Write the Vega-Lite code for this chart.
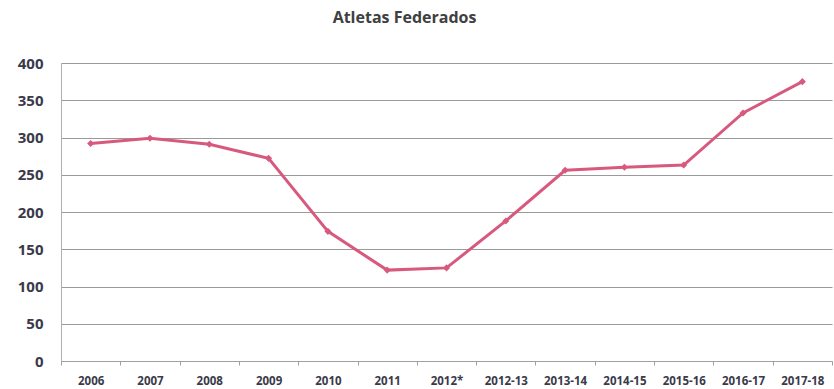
{
  "$schema": "https://vega.github.io/schema/vega-lite/v6.json",
  "width": 771,
  "height": 298,
  "autosize": {"type": "none"},
  "padding": {"left": 61, "top": 63, "right": 2, "bottom": 28},
  "background": "white",
  "title": {
    "text": "Atletas Federados",
    "font": "Open Sans",
    "fontSize": 16,
    "fontWeight": "bold",
    "color": "#404040",
    "anchor": "middle",
    "dx": -42,
    "offset": 30
  },
  "data": {
    "values": [
      {"periodo": "2006", "atletas": 292},
      {"periodo": "2007", "atletas": 299},
      {"periodo": "2008", "atletas": 291},
      {"periodo": "2009", "atletas": 272},
      {"periodo": "2010", "atletas": 174},
      {"periodo": "2011", "atletas": 122},
      {"periodo": "2012*", "atletas": 125},
      {"periodo": "2012-13", "atletas": 188},
      {"periodo": "2013-14", "atletas": 256},
      {"periodo": "2014-15", "atletas": 260},
      {"periodo": "2015-16", "atletas": 263},
      {"periodo": "2016-17", "atletas": 333},
      {"periodo": "2017-18", "atletas": 375}
    ]
  },
  "mark": {
    "type": "line",
    "color": "#d75a7e",
    "strokeWidth": 3,
    "point": {"shape": "diamond", "size": 50, "filled": true, "color": "#d75a7e"}
  },
  "encoding": {
    "x": {
      "field": "periodo",
      "type": "ordinal",
      "sort": null,
      "scale": {"paddingInner": 0, "paddingOuter": 0},
      "axis": {
        "title": null,
        "labelAngle": 0,
        "labelFont": "Open Sans",
        "labelFontSize": 11.5,
        "labelFontWeight": "bold",
        "labelColor": "#3a3a4a",
        "labelPadding": 10,
        "tickBand": "extent",
        "tickColor": "#a0a0a0",
        "tickSize": 4,
        "domainColor": "#a0a0a0",
        "grid": false
      }
    },
    "y": {
      "field": "atletas",
      "type": "quantitative",
      "scale": {"domain": [0, 400]},
      "axis": {
        "title": null,
        "values": [0, 50, 100, 150, 200, 250, 300, 350, 400],
        "labelFont": "Open Sans",
        "labelFontSize": 15,
        "labelFontWeight": "bold",
        "labelColor": "#3a3a4a",
        "labelPadding": 18,
        "ticks": false,
        "domainColor": "#b0b0b0",
        "gridColor": "#9a9a9a",
        "gridWidth": 1.2
      }
    }
  },
  "config": {
    "view": {"stroke": null}
  }
}
